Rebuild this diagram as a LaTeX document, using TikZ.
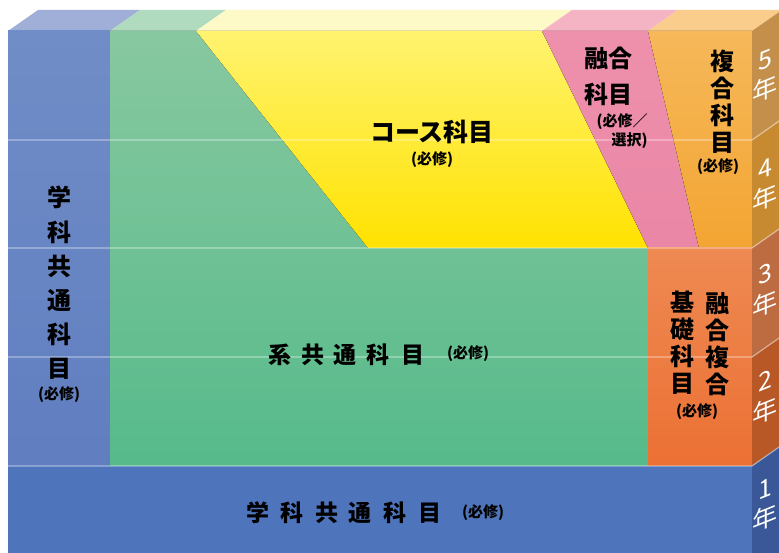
\documentclass[tikz,border=0pt]{standalone}
\usepackage{fontspec}
\newfontfamily\jp{Noto Sans CJK JP}
\definecolor{deptT}{RGB}{113,141,199}
\definecolor{deptB}{RGB}{96,126,192}
\definecolor{deptLow}{RGB}{78,117,188}
\definecolor{sysT}{RGB}{136,200,160}
\definecolor{sysB}{RGB}{86,186,138}
\definecolor{courseT}{RGB}{255,243,112}
\definecolor{courseB}{RGB}{255,226,0}
\definecolor{fuseT}{RGB}{238,145,172}
\definecolor{fuseB}{RGB}{234,134,166}
\definecolor{multiT}{RGB}{246,184,90}
\definecolor{multiB}{RGB}{243,165,50}
\definecolor{baseT}{RGB}{238,138,82}
\definecolor{baseB}{RGB}{236,112,52}
\definecolor{topDept}{RGB}{160,175,215}
\definecolor{topSys}{RGB}{176,219,190}
\definecolor{topCourse}{RGB}{254,250,200}
\definecolor{topFuse}{RGB}{245,180,196}
\definecolor{topMulti}{RGB}{250,205,140}
\definecolor{sideA}{RGB}{195,143,75}
\definecolor{sideB}{RGB}{200,138,48}
\definecolor{sideC}{RGB}{188,108,64}
\definecolor{sideD}{RGB}{184,88,38}
\definecolor{sideE}{RGB}{58,88,152}
\begin{document}
\begin{tikzpicture}[x=1pt,y=-1pt,
  subj/.style={font=\jp\bfseries\fontsize{24}{27}\selectfont,inner sep=0pt,align=center},
  req/.style={font=\jp\bfseries\fontsize{15}{19}\selectfont,inner sep=0pt,align=center},
  yearlbl/.style={font=\jp\fontsize{25}{30}\selectfont,text=white,inner sep=0pt,align=center,yslant=0.4},
  rowline/.style={white,opacity=0.45,line width=1.2pt}]
\useasboundingbox (0,0) rectangle (779,553);
\clip (0,0) rectangle (779,553);
\fill[white] (0,0) rectangle (779,553);

% top faces
\fill[topDept] (8,31) -- (110,31) -- (140,10) -- (38,10) -- cycle;
\fill[topSys] (110,31) -- (196,31) -- (226,10) -- (140,10) -- cycle;
\fill[topCourse] (196,31) -- (542,31) -- (572,10) -- (226,10) -- cycle;
\fill[topFuse] (542,31) -- (648,31) -- (678,10) -- (572,10) -- cycle;
\fill[topMulti] (648,31) -- (752,31) -- (782,10) -- (678,10) -- cycle;

% front faces
\fill[top color=deptT,bottom color=deptB] (8,31) rectangle (110,466);
\fill[top color=sysT,bottom color=sysB] (110,31) -- (196,31) -- (368,248) -- (648,248) -- (648,466) -- (110,466) -- cycle;
\fill[top color=courseT,bottom color=courseB] (196,31) -- (542,31) -- (648,248) -- (368,248) -- cycle;
\fill[top color=fuseT,bottom color=fuseB] (542,31) -- (648,31) -- (699,248) -- (648,248) -- cycle;
\fill[top color=multiT,bottom color=multiB] (648,31) -- (752,31) -- (752,248) -- (699,248) -- cycle;
\fill[top color=baseT,bottom color=baseB] (648,248) rectangle (752,466);
\fill[deptLow] (8,466) rectangle (752,575);

% side faces
\foreach \t/\b/\c in {31/140/sideA,140/248/sideB,248/357/sideC,357/466/sideD,466/575/sideE} {
  \fill[\c] (752,\t) -- (782,\t-21) -- (782,\b-21) -- (752,\b) -- cycle;
}

% year lines
\foreach \r in {140,248,357,466} {
  \draw[rowline] (8,\r) -- (752,\r) -- (782,\r-21);
}

% labels
\node[subj,font=\jp\bfseries\fontsize{24}{34.2}\selectfont] (deptcol) at (59,283) {学\\科\\共\\通\\科\\目};
\node[req] (deptcolreq) at (59,395) {(必修)};
\node[subj,font=\jp\bfseries\fontsize{25}{27}\selectfont] (course) at (432,132) {コース科目};
\node[req] (coursereq) at (432,160) {(必修)};
\node[subj,font=\jp\bfseries\fontsize{24}{36}\selectfont] (fuse) at (608,76) {融合\\科目};
\node[req,align=right] (fusereq) at (622,131) {(必修／\\選択)};
\node[subj] (multi) at (722,102) {複\\合\\科\\目};
\node[req] (multireq) at (718,167) {(必修)};
\node[subj] (baseL) at (682,343) {基\\礎\\科\\目};
\node[subj] (baseR) at (717,344) {融\\合\\複\\合};
\node[req] (basereq) at (697,412) {(必修)};
\foreach \ch/\x [count=\i] in {系/280,共/313,通/345,科/378,目/413} {
  \node[subj,font=\jp\bfseries\fontsize{23}{25}\selectfont] (sys\i) at (\x,355) {\ch};
}
\node[req] (sysreq) at (468,354) {(必修)};
\foreach \ch/\x [count=\i] in {学/258,科/292,共/327,通/360,科/395,目/430} {
  \node[subj,font=\jp\bfseries\fontsize{23}{25}\selectfont] (low\i) at (\x,513) {\ch};
}
\node[req] (lowreq) at (483,513) {(必修)};

% years
\foreach \n/\y in {5/76,4/185,3/290,2/397,1/505} {
  \node[yearlbl] (y\n) at (765,\y) {\n\\年};
}
\end{tikzpicture}
\end{document}
